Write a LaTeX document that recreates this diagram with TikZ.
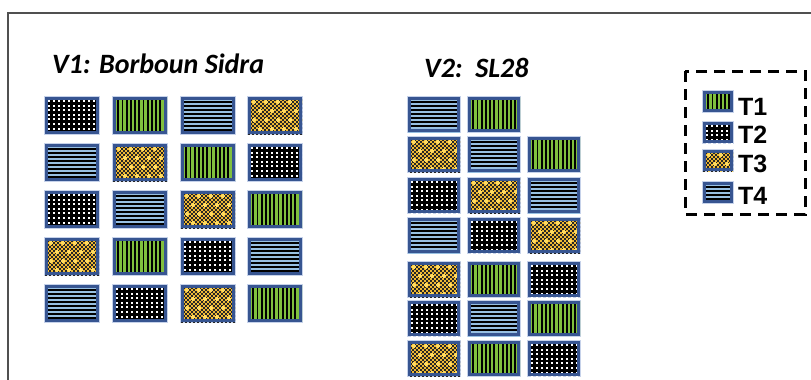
\documentclass[tikz,border=0pt]{standalone}
\usepackage{fontspec}
\newfontfamily\titlefont{Carlito}
\newfontfamily\legfont{Liberation Sans}
\definecolor{tileblue}{RGB}{55,85,145}
\definecolor{tilehalo}{RGB}{198,210,234}
\definecolor{tgreen}{RGB}{128,192,62}
\definecolor{tyellow}{RGB}{238,184,52}
\definecolor{tlight}{RGB}{255,218,95}
\definecolor{tblue}{RGB}{152,192,226}
\definecolor{framecol}{RGB}{80,80,80}
\tikzset{
  tileborder/.style={draw=tileblue, line width=3pt},
  title/.style={anchor=base west, inner sep=0pt, font=\titlefont\bfseries\itshape\fontsize{28}{32}\selectfont},
  legtext/.style={anchor=base west, inner sep=0pt, font=\legfont\bfseries\fontsize{25}{28}\selectfont},
  legbox/.style={draw=black, line width=3pt, dash pattern=on 11pt off 7pt},
}
\newcommand\patgreen[4]{%
  \fill[black] (#1,#2) rectangle ++(#3,#4);
  \foreach \i in {0,...,14}{\fill[tgreen] ({#1+2+\i*4.2},#2) rectangle ++(2.3,#4);}}
\newcommand\patdots[4]{%
  \fill[black] (#1,#2) rectangle ++(#3,#4);
  \foreach \i in {0,...,11}{\foreach \j in {0,...,8}{\fill[white] ({#1+3+\i*5},{#2+3+\j*4.6}) rectangle ++(2,2);}}}
\newcommand\patcheck[4]{%
  \fill[tyellow] (#1,#2) rectangle ++(#3,#4);
  \foreach \j in {0,...,19}{\foreach \i in {0,...,14}{\fill[black!85] ({#1+\i*4+mod(\j,2)*2},{#2+\j*2}) rectangle ++(1.6,1.6);}}
  \foreach \i in {0,...,4}{\foreach \j in {0,...,3}{%
    \fill[tlight] ({#1+6+\i*12+mod(\j,2)*6-2},{#2+5+\j*9-0.6}) rectangle ++(4,1.2);
    \fill[tlight] ({#1+6+\i*12+mod(\j,2)*6-0.6},{#2+5+\j*9-2}) rectangle ++(1.2,4);}}}
\newcommand\patlines[4]{%
  \fill[black] (#1,#2) rectangle ++(#3,#4);
  \foreach \j in {0,...,10}{\fill[tblue] (#1,{#2+1.5+\j*4}) rectangle ++(#3,2.3);}}
\newcommand\tile[5]{%
  \fill[tilehalo] ({#1-0.6},{#2-0.6}) rectangle ({#1+#3+1.2},{#2+#4+1.2});
  \begin{scope}
    \clip (#1,#2) rectangle ({#1+#3},{#2+#4});
    #5{#1}{#2}{#3}{#4}
  \end{scope}
  \draw[tileborder] ({#1+1.5},{#2+1.5}) rectangle ({#1+#3-1.5},{#2+#4-1.5});}
\newcommand\vone[3]{\tile{#1}{#2}{54}{37}{#3}}
\newcommand\vtwo[3]{\tile{#1}{#2}{52}{35}{#3}}
\begin{document}
\begin{tikzpicture}[x=1pt,y=-1pt]
\useasboundingbox (0,0) rectangle (811,380);
\fill[white] (0,0) rectangle (811,380);
% frame
\draw[framecol, line width=2pt] (7.5,382) -- (7.5,12.7) -- (813,12.7);
% titles
\node[title] (v1) at (52,73) {V1: Borboun Sidra};
\node[title] (v2) at (424,77) {V2:\ \ SL28};
% V1 grid
\vone{45}{97}{\patdots}   \vone{113}{97}{\patgreen}  \vone{181}{97}{\patlines}  \vone{248}{97}{\patcheck}
\vone{45}{144}{\patlines} \vone{113}{144}{\patcheck} \vone{181}{144}{\patgreen} \vone{248}{144}{\patdots}
\vone{45}{191}{\patdots}  \vone{113}{191}{\patlines} \vone{181}{191}{\patcheck} \vone{248}{191}{\patgreen}
\vone{45}{238}{\patcheck} \vone{113}{238}{\patgreen} \vone{181}{238}{\patdots}  \vone{248}{238}{\patlines}
\vone{45}{285}{\patlines} \vone{113}{285}{\patdots}  \vone{181}{285}{\patcheck} \vone{248}{285}{\patgreen}
% V2 grid
\vtwo{408}{97}{\patlines}  \vtwo{468}{97}{\patgreen}
\vtwo{408}{137}{\patcheck} \vtwo{468}{137}{\patlines} \vtwo{528}{137}{\patgreen}
\vtwo{408}{178}{\patdots}  \vtwo{468}{178}{\patcheck} \vtwo{528}{178}{\patlines}
\vtwo{408}{218}{\patlines} \vtwo{468}{218}{\patdots}  \vtwo{528}{218}{\patcheck}
\vtwo{408}{262}{\patcheck} \vtwo{468}{262}{\patgreen} \vtwo{528}{262}{\patdots}
\vtwo{408}{301}{\patdots}  \vtwo{468}{301}{\patlines} \vtwo{528}{301}{\patgreen}
\vtwo{408}{341}{\patcheck} \vtwo{468}{341}{\patgreen} \vtwo{528}{341}{\patdots}
% legend
\draw[legbox] (685,71) rectangle (805,214);
\tile{703}{91}{30}{21}{\patgreen}
\tile{703}{122}{30}{21}{\patdots}
\tile{703}{150}{30}{21}{\patcheck}
\tile{703}{182}{30}{21}{\patlines}
\node[legtext] (t1) at (738,115) {T1};
\node[legtext] (t2) at (738,143) {T2};
\node[legtext] (t3) at (738,172) {T3};
\node[legtext] (t4) at (738,204) {T4};
\end{tikzpicture}
\end{document}
